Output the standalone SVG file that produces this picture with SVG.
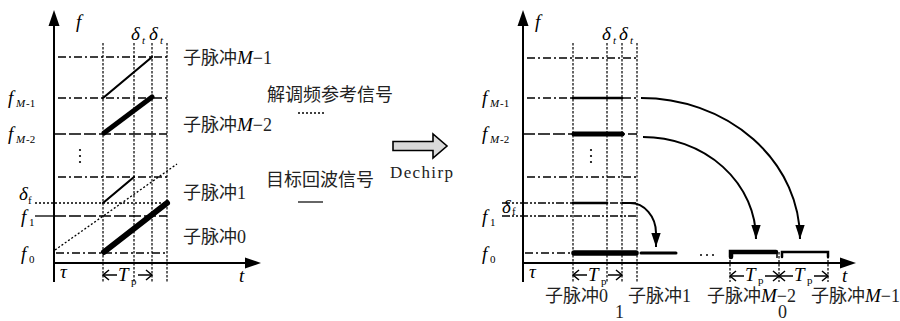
<svg xmlns="http://www.w3.org/2000/svg" width="900" height="321" viewBox="0 0 900 321">
<defs>
<style>
.ax{stroke:#000;stroke-width:2;fill:none}
.dd{stroke:#000;stroke-width:1.3;stroke-dasharray:8,3,2,3;fill:none}
.ddd{stroke:#000;stroke-width:1.3;stroke-dasharray:8,2,2,2,2,2;fill:none}
.ld{stroke:#000;stroke-width:1.3;stroke-dasharray:12,3;fill:none}
.dt{stroke:#000;stroke-width:1.3;stroke-dasharray:2,2;fill:none}
.vd{stroke:#000;stroke-width:1.2;stroke-dasharray:2.5,1.5;fill:none}
.sg{stroke:#000;fill:none;stroke-linecap:round}
.cv{stroke:#000;stroke-width:2;fill:none}
.ch{stroke:#000;stroke-width:1.5;fill:none}
.m{font-family:"Liberation Serif",serif;font-style:italic;font-size:19px;fill:#000}
.ms{font-family:"Liberation Serif",serif;font-style:italic;font-size:11px;fill:#000}
.rs{font-family:"Liberation Serif",serif;font-size:11px;fill:#000}
.cn{font-family:"Liberation Serif","Noto Sans CJK SC",serif;font-size:18px;fill:#222}
.lt{font-family:"Liberation Serif",serif;font-size:17px;fill:#222}
</style>
<marker id="ah" markerUnits="userSpaceOnUse" markerWidth="14" markerHeight="20" viewBox="0 0 18 12" refX="18" refY="6" orient="auto">
<path d="M0,0 L18,6 L0,12 Z" fill="#000"/>
</marker>
</defs>

<g id="left-axes">
<line class="ax" x1="54" y1="282" x2="54" y2="24"/>
<polygon points="54,10 48.5,26 59.5,26" fill="#000"/>
<line class="ax" x1="54" y1="263" x2="248" y2="263"/>
<polygon points="261,263 245,257.5 245,268.5" fill="#000"/>
<text class="m" x="76" y="28">f</text>
<text class="m" x="239" y="282">t</text>
<text class="m" x="60" y="278">τ</text>
</g>

<g id="left-grid">
<line class="dd" x1="58" y1="57" x2="167" y2="57"/>
<line class="dd" x1="58" y1="98" x2="167" y2="98"/>
<line class="ld" x1="54" y1="134" x2="167" y2="134"/>
<line class="dd" x1="58" y1="177" x2="167" y2="177"/>
<line class="dt" x1="35" y1="203" x2="167" y2="203"/>
<line stroke="#000" stroke-width="1.3" x1="35" y1="216" x2="54" y2="216"/>
<line class="ld" x1="54" y1="216" x2="167" y2="216"/>
<line class="dd" x1="56" y1="253" x2="167" y2="253"/>
<line class="vd" x1="103" y1="43" x2="103" y2="282"/>
<line class="vd" x1="134" y1="43" x2="134" y2="282"/>
<line class="vd" x1="152" y1="43" x2="152" y2="282"/>
<line class="vd" x1="167" y1="43" x2="167" y2="282"/>
<line class="dt" x1="55" y1="250" x2="177" y2="164"/>
<circle cx="80" cy="150" r="1.1"/><circle cx="80" cy="156" r="1.1"/><circle cx="80" cy="162" r="1.1"/>
</g>

<g id="left-segments">
<line class="sg" stroke-width="2.2" x1="103" y1="98" x2="152" y2="57"/>
<line class="sg" stroke-width="5" x1="104" y1="133" x2="152" y2="97"/>
<line class="sg" stroke-width="2.2" x1="103" y1="203" x2="134" y2="177"/>
<line class="sg" stroke-width="6" x1="104" y1="252" x2="167" y2="203"/>
</g>

<g id="left-labels">
<text class="m" x="131" y="40">δ</text><text class="ms" x="142" y="44">t</text>
<text class="m" x="149" y="40">δ</text><text class="ms" x="160" y="44">t</text>
<text class="m" x="8" y="104">f</text><text class="ms" x="16" y="107">M</text><text class="rs" x="26" y="107">-1</text>
<text class="m" x="8" y="140">f</text><text class="ms" x="16" y="143">M</text><text class="rs" x="26" y="143">-2</text>
<text class="m" x="19" y="200" font-size="17">δ</text><text class="rs" x="28" y="204" font-size="10">f</text>
<text class="m" x="21" y="223">f</text><text class="rs" x="29" y="226">1</text>
<text class="m" x="21" y="260">f</text><text class="rs" x="29" y="263">0</text>
<text class="cn" x="183" y="64">子脉冲<tspan class="m" font-size="18">M</tspan>−1</text>
<text class="cn" x="183" y="131">子脉冲<tspan class="m" font-size="18">M</tspan>−2</text>
<text class="cn" x="183" y="199">子脉冲1</text>
<text class="cn" x="183" y="243">子脉冲0</text>
</g>

<g id="left-tp">
<line class="ch" x1="103" y1="275" x2="117" y2="275"/>
<line class="ch" x1="138" y1="275" x2="152" y2="275"/>
<polyline class="ch" points="109,270 103,275 109,280"/>
<polyline class="ch" points="146,270 152,275 146,280"/>
<text class="m" x="118" y="281">T</text><text class="rs" x="131" y="285" font-size="10">p</text>
</g>

<g id="legend">
<text class="cn" x="267" y="101">解调频参考信号</text>
<line class="dt" stroke-width="1" stroke-dasharray="1,1" x1="298" y1="113" x2="324" y2="113"/>
<text class="cn" x="266" y="186">目标回波信号</text>
<line stroke="#000" stroke-width="1.2" x1="298" y1="202" x2="323" y2="202"/>
</g>

<g id="dechirp-arrow">
<polygon points="393,141.5 433,141.5 433,134 447,146 433,158 433,150.5 393,150.5" fill="#d9d9d9" stroke="#000" stroke-width="1.6"/>
<text class="lt" x="390" y="178" textLength="63">Dechirp</text>
</g>

<g id="right-axes">
<line class="ax" x1="523" y1="282" x2="523" y2="24"/>
<polygon points="523,10 517.5,26 528.5,26" fill="#000"/>
<line class="ax" x1="523" y1="263" x2="843" y2="263"/>
<polygon points="856,263 840,257.5 840,268.5" fill="#000"/>
<text class="m" x="535" y="28">f</text>
<text class="m" x="842" y="282">t</text>
<text class="m" x="529" y="278">τ</text>
</g>

<g id="right-grid">
<line class="dd" x1="527" y1="58" x2="637" y2="58"/>
<line class="dd" x1="527" y1="98" x2="637" y2="98"/>
<line class="ld" x1="523" y1="134" x2="637" y2="134"/>
<line class="dd" x1="527" y1="177" x2="637" y2="177"/>
<line class="ddd" x1="502" y1="203" x2="637" y2="203"/>
<line class="ddd" x1="502" y1="216" x2="637" y2="216"/>
<line class="dd" x1="525" y1="253" x2="637" y2="253"/>
<line class="vd" x1="573" y1="43" x2="573" y2="282"/>
<line class="vd" x1="607" y1="43" x2="607" y2="282"/>
<line class="vd" x1="622" y1="43" x2="622" y2="282"/>
<line class="vd" x1="637" y1="43" x2="637" y2="282"/>
<line class="vd" x1="730" y1="252" x2="730" y2="282"/>
<line class="vd" x1="779" y1="252" x2="779" y2="282"/>
<line class="vd" x1="828" y1="252" x2="828" y2="282"/>
<circle cx="591" cy="150" r="1.1"/><circle cx="591" cy="156" r="1.1"/><circle cx="591" cy="162" r="1.1"/>
<circle cx="701" cy="255" r="1"/><circle cx="707" cy="255" r="1"/><circle cx="713" cy="255" r="1"/>
</g>

<g id="right-segments">
<line class="sg" stroke-width="2.6" x1="573" y1="98" x2="622" y2="98"/>
<line class="sg" stroke-width="5" x1="574" y1="134" x2="622" y2="134"/>
<line class="sg" stroke-width="2.6" x1="573" y1="203" x2="607" y2="203"/>
<line class="sg" stroke-width="5.5" x1="574" y1="253" x2="636" y2="253"/>
<line class="sg" stroke-width="3" x1="641" y1="253" x2="676" y2="253"/>
<path class="sg" stroke-width="4.5" d="M731,257 L731,252 L776,252"/>
<line stroke="#000" stroke-width="1.5" x1="777" y1="251" x2="777" y2="258"/>
<path class="sg" stroke-width="2.5" d="M782,257 L782,252 L828,252 L828,257"/>
</g>

<g id="connectors">
<path class="cv" d="M641,98 A159,141 0 0 1 800,239" marker-end="url(#ah)"/>
<path class="cv" d="M643,137 A113,102 0 0 1 756,239" marker-end="url(#ah)"/>
<path class="cv" d="M622,203 L630,203 A26,30 0 0 1 656,233 L656,247" marker-end="url(#ah)"/>
</g>

<g id="right-labels">
<text class="m" x="602" y="40">δ</text><text class="ms" x="613" y="44">t</text>
<text class="m" x="619" y="40">δ</text><text class="ms" x="630" y="44">t</text>
<text class="m" x="482" y="104">f</text><text class="ms" x="490" y="107">M</text><text class="rs" x="500" y="107">-1</text>
<text class="m" x="482" y="140">f</text><text class="ms" x="490" y="143">M</text><text class="rs" x="500" y="143">-2</text>
<text class="m" x="502" y="213" font-size="14">δ</text><text class="rs" x="512" y="215" font-size="9">f</text>
<text class="m" x="482" y="223">f</text><text class="rs" x="490" y="226">1</text>
<text class="m" x="482" y="260">f</text><text class="rs" x="490" y="263">0</text>
<text class="cn" x="545" y="302">子脉冲0</text>
<text class="cn" x="615" y="318" font-size="11">1</text>
<text class="cn" x="628" y="302">子脉冲1</text>
<text class="cn" x="707" y="302">子脉冲<tspan class="m" font-size="18">M</tspan>−2</text>
<text class="cn" x="778" y="318" font-size="11">0</text>
<text class="cn" x="811" y="302">子脉冲<tspan class="m" font-size="18">M</tspan>−1</text>
</g>

<g id="right-tp">
<line class="ch" x1="573" y1="275" x2="587" y2="275"/>
<line class="ch" x1="608" y1="275" x2="622" y2="275"/>
<polyline class="ch" points="579,270 573,275 579,280"/>
<polyline class="ch" points="616,270 622,275 616,280"/>
<text class="m" x="588" y="281">T</text><text class="rs" x="601" y="285" font-size="10">p</text>
<line class="ch" x1="730" y1="276" x2="744" y2="276"/>
<line class="ch" x1="765" y1="276" x2="779" y2="276"/>
<polyline class="ch" points="736,271 730,276 736,281"/>
<polyline class="ch" points="773,271 779,276 773,281"/>
<text class="m" x="745" y="281">T</text><text class="rs" x="758" y="284" font-size="9">p</text>
<line class="ch" x1="779" y1="276" x2="793" y2="276"/>
<line class="ch" x1="814" y1="276" x2="828" y2="276"/>
<polyline class="ch" points="785,271 779,276 785,281"/>
<polyline class="ch" points="822,271 828,276 822,281"/>
<text class="m" x="794" y="281">T</text><text class="rs" x="807" y="284" font-size="9">p</text>
</g>
</svg>
